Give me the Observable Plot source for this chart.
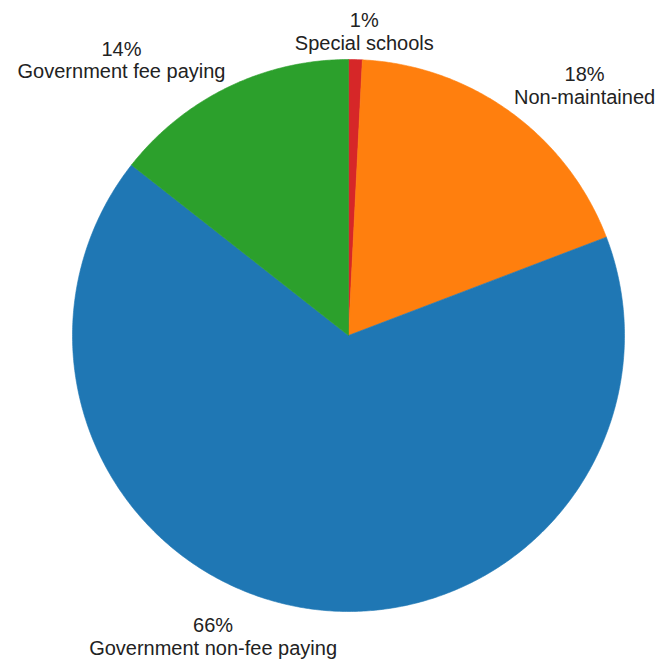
<!DOCTYPE html>
<html><head><meta charset="utf-8">
<script src="https://cdn.jsdelivr.net/npm/d3@7"></script>
<script src="https://cdn.jsdelivr.net/npm/@observablehq/plot@0.6"></script>
<style>html,body{margin:0;padding:0;background:#fff;} #chart{width:657px;height:663px;}</style>
</head><body><div id="chart"></div>
<script>
// ---- data ----
const categories = ["Special schools", "Non-maintained", "Government non-fee paying", "Government fee paying"];
const shares = [0.8, 18.4, 66.4, 14.4];
const percentLabels = ["1%", "18%", "66%", "14%"];
const colors = ["#d62728", "#ff7f0e", "#1f77b4", "#2ca02c"];

// ---- layout ----
const W = 657, H = 663;
const xRange = [72, 624], yRange = [611, 59];
const pxPerUnitX = (xRange[1] - xRange[0]) / 2;
const pxPerUnitY = (yRange[0] - yRange[1]) / 2;
const fontSize = 20, lineHeight = 1.13;
const fontFamily = "'Liberation Sans', Arial, Helvetica, sans-serif";

const total = d3.sum(shares);
let acc = 0;
const slices = categories.map((name, i) => {
  const a0 = acc / total * 2 * Math.PI;
  acc += shares[i];
  const a1 = acc / total * 2 * Math.PI;
  return {name, a0, a1, color: colors[i], label: percentLabels[i] + "\n" + name};
});

// slice outlines in data units (unit circle, clockwise from 12 o'clock)
function outline(s) {
  const pts = [{x: 0, y: 0}];
  const n = Math.max(2, Math.ceil((s.a1 - s.a0) / (Math.PI / 360)));
  for (let j = 0; j <= n; j++) {
    const a = s.a0 + (s.a1 - s.a0) * j / n;
    pts.push({x: Math.sin(a), y: Math.cos(a)});
  }
  pts.push({x: 0, y: 0});
  return pts;
}

// label placement: nearest corner of label box on mid-angle ray just outside the pie
const ctx = document.createElement("canvas").getContext("2d");
ctx.font = `${fontSize}px ${fontFamily}`;
const clamp = v => Math.max(-1, Math.min(1, v));
const labels = slices.map(s => {
  const m = (s.a0 + s.a1) / 2;
  const r = 1.02;
  const w = d3.max(s.label.split("\n"), t => ctx.measureText(t).width);
  const h = 2 * fontSize * lineHeight;
  const ox = (w / 2) * clamp(5 * Math.sin(m)) / pxPerUnitX;
  const oy = (h / 2) * clamp(5 * Math.cos(m)) / pxPerUnitY;
  return {label: s.label, x: r * Math.sin(m) + ox, y: r * Math.cos(m) + oy};
});

const chart = Plot.plot({
  width: W,
  height: H,
  margin: 0,
  style: {background: "#fff", fontFamily},
  x: {domain: [-1, 1], range: xRange, axis: null},
  y: {domain: [-1, 1], range: yRange, axis: null},
  marks: [
    ...slices.map(s => Plot.line(outline(s), {x: "x", y: "y", fill: s.color, stroke: s.color, strokeWidth: 0.6, curve: "linear"})),
    Plot.text(labels, {x: "x", y: "y", text: "label", textAnchor: "middle", lineAnchor: "middle",
      fontSize, lineHeight, fill: "#222", fontFamily})
  ]
});
document.getElementById("chart").appendChild(chart);
</script>
</body></html>
